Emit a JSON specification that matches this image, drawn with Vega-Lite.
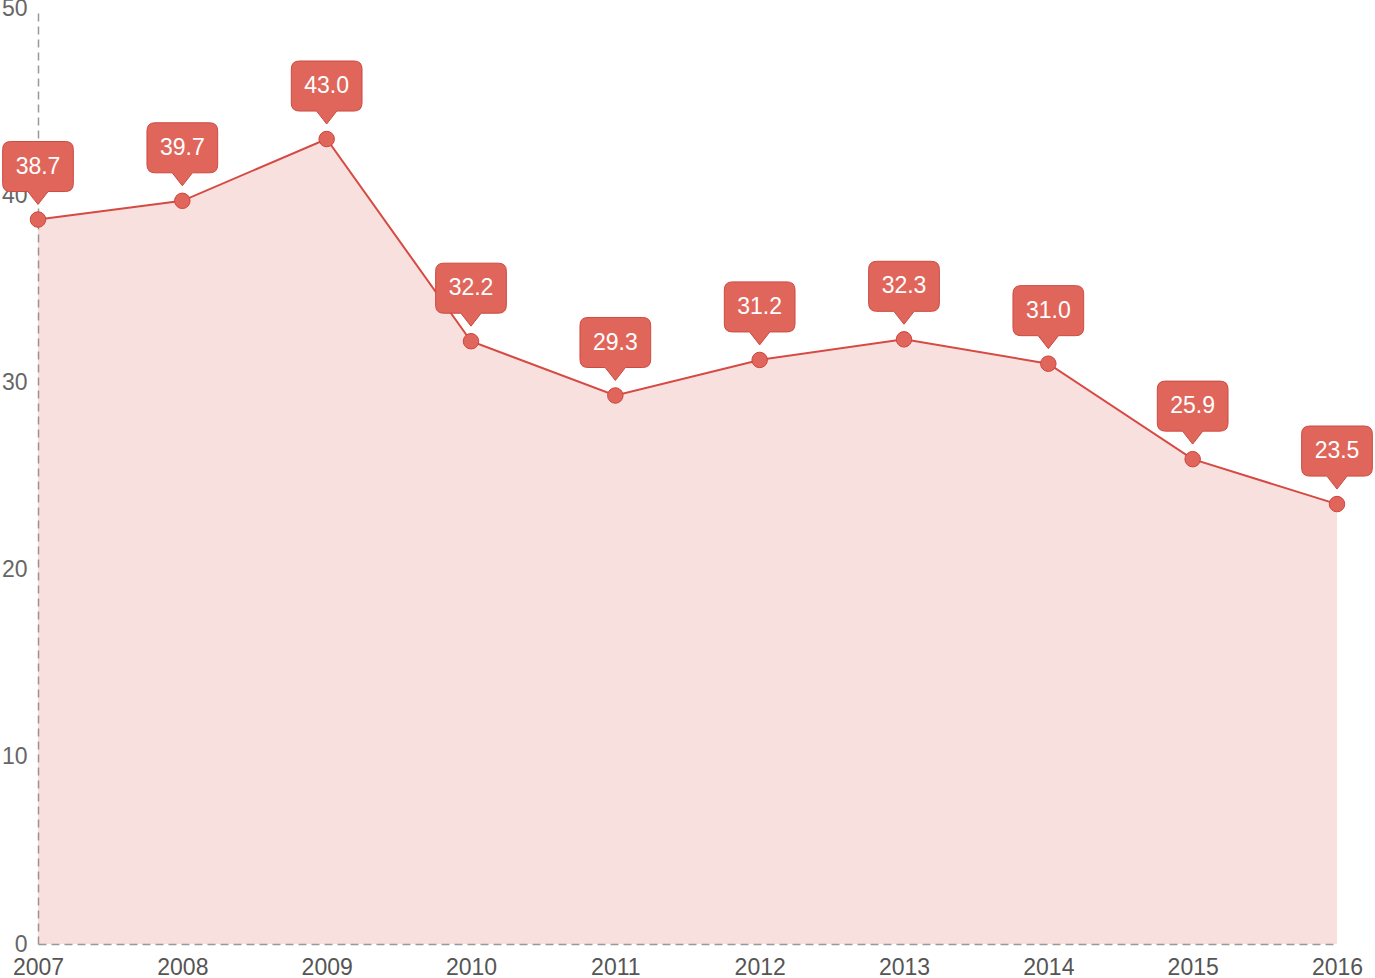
{
  "$schema": "https://vega.github.io/schema/vega-lite/v6.json",
  "width": 1299,
  "height": 936,
  "autosize": {"type": "none"},
  "padding": {"left": 38, "top": 8, "right": 38, "bottom": 34},
  "background": "white",
  "config": {"view": {"stroke": null}, "font": "Liberation Sans"},
  "data": {"values": [
    {"year": "2007", "value": 38.7},
    {"year": "2008", "value": 39.7},
    {"year": "2009", "value": 43.0},
    {"year": "2010", "value": 32.2},
    {"year": "2011", "value": 29.3},
    {"year": "2012", "value": 31.2},
    {"year": "2013", "value": 32.3},
    {"year": "2014", "value": 31.0},
    {"year": "2015", "value": 25.9},
    {"year": "2016", "value": 23.5}
  ]},
  "encoding": {
    "x": {"field": "year", "type": "ordinal", "scale": {"type": "point", "padding": 0},
      "axis": {"title": null, "zindex": 0, "labelAngle": 0, "ticks": false, "grid": false, "domainColor": "#999", "domainDash": [8, 5], "domainWidth": 1.5, "labelFontSize": 23, "labelColor": "#555", "labelPadding": 12}},
    "y": {"field": "value", "type": "quantitative", "scale": {"domain": [0, 50]},
      "axis": {"title": null, "zindex": 0, "values": [0, 10, 20, 30, 40, 50], "ticks": false, "grid": false, "domainColor": "#999", "domainDash": [8, 5], "domainWidth": 1.5, "labelFontSize": 23, "labelColor": "#666", "labelPadding": 11}}
  },
  "layer": [
    {"mark": {"type": "area", "color": "#dc645f", "opacity": 0.2}},
    {"mark": {"type": "line", "color": "#d64a43", "strokeWidth": 2}},
    {"mark": {"type": "point", "filled": true, "size": 240, "color": "#e0665b", "stroke": "#d0453d", "strokeWidth": 1, "opacity": 1}},
    {"mark": {"type": "point", "filled": true, "size": 4900, "color": "#e0665b", "stroke": "#cc4a42", "strokeWidth": 1, "opacity": 1,
      "shape": "M0,-0.43 L-0.29,-0.8 L-0.78,-0.8 Q-1.01,-0.8 -1.01,-1.03 L-1.01,-2.0 Q-1.01,-2.23 -0.78,-2.23 L0.78,-2.23 Q1.01,-2.23 1.01,-2.0 L1.01,-1.03 Q1.01,-0.8 0.78,-0.8 L0.29,-0.8 Z"}},
    {"mark": {"type": "text", "color": "white", "fontSize": 23, "dy": -53, "baseline": "middle", "align": "center"},
      "encoding": {"text": {"field": "value", "type": "quantitative", "format": ".1f"}}}
  ]
}
